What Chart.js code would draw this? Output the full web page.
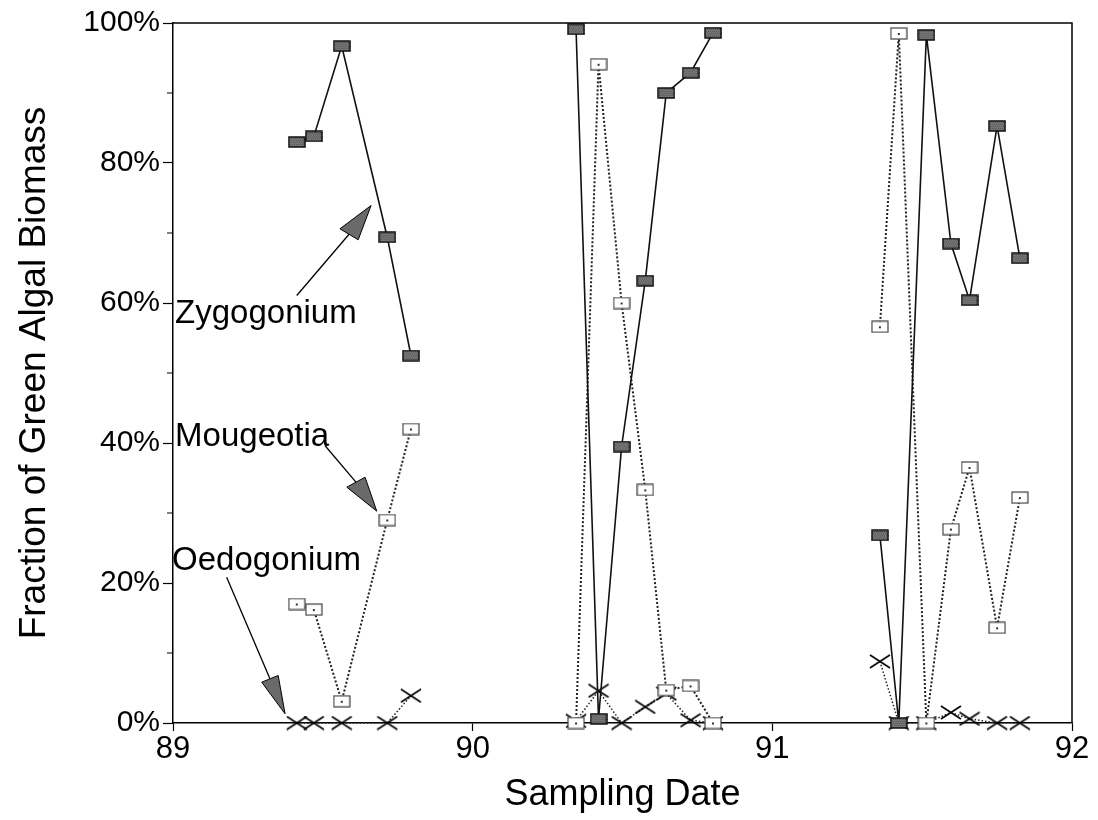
<!DOCTYPE html>
<html>
<head>
<meta charset="utf-8">
<script src="https://cdn.jsdelivr.net/npm/chart.js@4.4.1/dist/chart.umd.min.js"></script>
<style>
  html, body { margin: 0; padding: 0; background: #fff; }
  #c { display: block; }
</style>
</head>
<body>
<canvas id="c" width="1098" height="820"></canvas>
<script>
// ---------------- data ----------------
const dates = [89.413, 89.470, 89.563, 89.715, 89.794,
               90.345, 90.420, 90.497, 90.576, 90.646, 90.727, 90.802,
               91.359, 91.422, 91.514, 91.596, 91.658, 91.750, 91.826];
const seasons = [89, 89, 89, 89, 89,
                 90, 90, 90, 90, 90, 90, 90,
                 91, 91, 91, 91, 91, 91, 91];
const zygogonium = [83.0, 83.8, 96.7, 69.4, 52.5,
                    99.1, 0.6, 39.5, 63.2, 90.0, 92.9, 98.6,
                    26.8, 0.0, 98.3, 68.5, 60.4, 85.3, 66.4];
const mougeotia = [17.0, 16.2, 3.1, 29.0, 42.0,
                   0.0, 94.1, 60.0, 33.3, 4.7, 5.3, 0.0,
                   56.6, 98.5, 0.0, 27.7, 36.5, 13.6, 32.2];
const oedogonium = [0.0, 0.0, 0.0, 0.0, 3.9,
                    0.3, 4.6, 0.0, 2.3, 4.2, 0.4, 0.0,
                    8.8, 0.0, 0.0, 1.5, 0.6, 0.0, 0.0];
const xTicks = [89, 90, 91, 92];
const yMajorTicks = [0, 20, 40, 60, 80, 100];
const yMinorTicks = [10, 30, 50, 70, 90];

// annotation labels + arrows, in data units
const labelNames = ['Zygogonium', 'Mougeotia', 'Oedogonium'];
const labelPos = [[89.007, 57.2], [89.007, 39.6], [88.997, 21.8]];
const arrowTail = [[89.413, 61.07], [89.507, 39.64], [89.179, 20.83]];
const arrowTip = [[89.661, 73.93], [89.680, 30.26], [89.374, 1.31]];
const arrowBaseA = [[89.557, 70.60], [89.580, 33.69], [89.296, 5.83]];
const arrowBaseB = [[89.618, 69.03], [89.641, 35.11], [89.351, 6.79]];

// ---------------- marker images ----------------
function makeFilledRect() {
  const c = document.createElement('canvas');
  c.width = 18; c.height = 12;
  const g = c.getContext('2d');
  g.fillStyle = '#767676';
  g.fillRect(1, 1, 16, 10);
  g.fillStyle = '#555';
  for (let i = 2; i < 17; i += 2) for (let j = 2; j < 11; j += 2) g.fillRect(i + (j % 4 ? 1 : 0), j, 1, 1);
  g.strokeStyle = '#111';
  g.lineWidth = 1.5;
  g.strokeRect(1, 1, 16, 10);
  return c;
}
function makeOpenRect() {
  const c = document.createElement('canvas');
  c.width = 18; c.height = 13;
  const g = c.getContext('2d');
  g.fillStyle = '#fff';
  g.fillRect(1, 1, 16, 11);
  g.strokeStyle = '#444';
  g.lineWidth = 1.2;
  g.strokeRect(1, 1, 16, 11);
  g.fillStyle = '#333';
  g.fillRect(8, 6, 2, 2);
  return c;
}
function makeCross() {
  const c = document.createElement('canvas');
  c.width = 22; c.height = 15;
  const g = c.getContext('2d');
  g.strokeStyle = '#000';
  g.lineWidth = 1.6;
  g.beginPath();
  g.moveTo(1, 1); g.lineTo(21, 14);
  g.moveTo(21, 1); g.lineTo(1, 14);
  g.stroke();
  return c;
}

function toPoints(vals) {
  return dates.map((d, i) => ({ x: d, y: vals[i] }));
}
function seasonSegment(color) {
  return {
    borderColor: ctx => seasons[ctx.p0DataIndex] !== seasons[ctx.p1DataIndex] ? 'rgba(0,0,0,0)' : color
  };
}

const FONT = "'Liberation Sans', Arial, Helvetica, sans-serif";
Chart.defaults.color = '#000';
Chart.defaults.font.family = FONT;

const decor = {
  id: 'decor',
  afterDraw(chart) {
    const ctx = chart.ctx;
    const ca = chart.chartArea;
    const xs = chart.scales.x, ys = chart.scales.y;
    ctx.save();
    ctx.strokeStyle = '#000';
    ctx.lineWidth = 1.5;
    ctx.beginPath();
    ctx.moveTo(ca.left, ca.top);
    ctx.lineTo(ca.right, ca.top);
    ctx.lineTo(ca.right, ca.bottom);
    ctx.stroke();
    // minor y ticks
    ctx.lineWidth = 1.2;
    ctx.beginPath();
    yMinorTicks.forEach(v => {
      const py = ys.getPixelForValue(v);
      ctx.moveTo(ca.left - 6, py);
      ctx.lineTo(ca.left, py);
    });
    ctx.stroke();
    // annotations
    ctx.font = "33px " + FONT;
    ctx.fillStyle = '#000';
    ctx.textAlign = 'left';
    ctx.textBaseline = 'alphabetic';
    labelNames.forEach((name, i) => {
      ctx.fillText(name, xs.getPixelForValue(labelPos[i][0]), ys.getPixelForValue(labelPos[i][1]));
    });
    labelNames.forEach((name, i) => {
      const P = p => [xs.getPixelForValue(p[0]), ys.getPixelForValue(p[1])];
      const t = P(arrowTail[i]), tip = P(arrowTip[i]), a = P(arrowBaseA[i]), b = P(arrowBaseB[i]);
      const mid = [(a[0] + b[0]) / 2, (a[1] + b[1]) / 2];
      ctx.strokeStyle = '#000';
      ctx.lineWidth = 1.3;
      ctx.beginPath();
      ctx.moveTo(t[0], t[1]);
      ctx.lineTo(mid[0], mid[1]);
      ctx.stroke();
      ctx.beginPath();
      ctx.moveTo(tip[0], tip[1]);
      ctx.lineTo(a[0], a[1]);
      ctx.lineTo(b[0], b[1]);
      ctx.closePath();
      ctx.fillStyle = '#6a6a6a';
      ctx.fill();
      ctx.lineWidth = 1;
      ctx.stroke();
    });
    ctx.restore();
  }
};

new Chart(document.getElementById('c'), {
  type: 'line',
  data: {
    datasets: [
      {
        label: 'Zygogonium',
        data: toPoints(zygogonium),
        borderColor: '#111',
        borderWidth: 1.6,
        pointStyle: makeFilledRect(),
        segment: seasonSegment('#111'),
        order: 0,
        clip: false
      },
      {
        label: 'Mougeotia',
        data: toPoints(mougeotia),
        borderColor: '#222',
        borderWidth: 2,
        borderDash: [2, 2],
        pointStyle: makeOpenRect(),
        segment: seasonSegment('#222'),
        order: 1,
        clip: false
      },
      {
        label: 'Oedogonium',
        data: toPoints(oedogonium),
        borderColor: '#222',
        borderWidth: 1.5,
        borderDash: [1.5, 2],
        pointStyle: makeCross(),
        segment: seasonSegment('#222'),
        order: 2,
        clip: false
      }
    ]
  },
  options: {
    responsive: false,
    devicePixelRatio: 1,
    animation: false,
    events: [],
    layout: { padding: { top: 23, right: 26, left: 0, bottom: 0 } },
    plugins: { legend: { display: false }, tooltip: { enabled: false } },
    elements: { line: { tension: 0, fill: false } },
    scales: {
      x: {
        type: 'linear',
        min: 89, max: 92,
        afterBuildTicks: s => { s.ticks = xTicks.map(v => ({ value: v })); },
        afterFit: s => { s.height = 97; },
        ticks: { font: { size: 31 }, color: '#000', padding: 0, callback: v => String(v) },
        grid: { drawOnChartArea: false, drawTicks: true, tickLength: 8, color: '#000', tickWidth: 1.2 },
        border: { display: true, color: '#000', width: 1.5 },
        title: { display: true, text: 'Sampling Date', font: { size: 36 }, color: '#000', padding: { top: 0, bottom: 3 } }
      },
      y: {
        min: 0, max: 100,
        afterBuildTicks: s => { s.ticks = yMajorTicks.map(v => ({ value: v })); },
        afterFit: s => { s.width = 173; },
        ticks: { font: { size: 30 }, color: '#000', padding: 3, callback: v => v + '%' },
        grid: { drawOnChartArea: false, drawTicks: true, tickLength: 10, color: '#000', tickWidth: 1.2 },
        border: { display: true, color: '#000', width: 1.5 },
        title: { display: true, text: 'Fraction of Green Algal Biomass', font: { size: 37 }, color: '#000', padding: { top: 13, bottom: 0 } }
      }
    }
  },
  plugins: [decor]
});
</script>
</body>
</html>
